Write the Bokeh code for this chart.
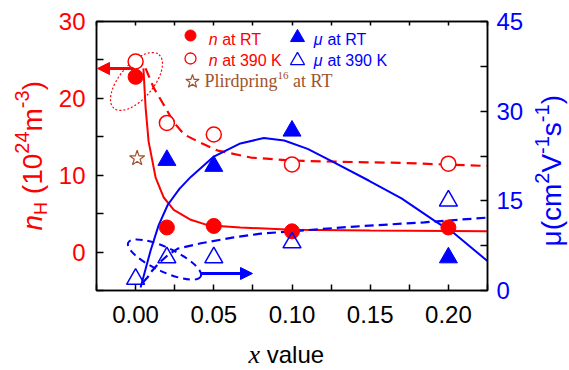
from bokeh.plotting import figure
from bokeh.layouts import row, column
from bokeh.models import Range1d, LinearAxis, FixedTicker, Label, Arrow, NormalHead, NumeralTickFormatter
from bokeh.embed import file_html
from bokeh.resources import INLINE

# ---------------- data ----------------
x_pts = [0.0, 0.02, 0.05, 0.10, 0.20]
n_rt = [22.8, 3.2, 3.4, 2.7, 3.2]            # filled circles, left axis
n_390 = [24.8, 16.8, 15.3, 11.4, 11.5]       # open circles, left axis
mu_rt_x = [0.02, 0.05, 0.10, 0.20]
mu_rt = [21.8, 20.8, 26.7, 5.5]              # filled triangles, right axis
mu_390 = [1.9, 5.5, 5.5, 8.0, 15.0]          # open triangles, right axis
ref_x = [0.001]
ref_n = [12.2]                               # Plirdpring at RT

# fitted guide curves
fit_nrt_x = [0.005, 0.0064, 0.0083, 0.0128, 0.018, 0.0244, 0.0353, 0.046, 0.067, 0.10, 0.15, 0.225]
fit_nrt_y = [23.9, 18.8, 14.4, 9.7, 7.1, 5.5, 4.2, 3.5, 3.2, 2.9, 2.8, 2.7]
fit_n390_x = [0.0064, 0.0115, 0.0173, 0.0244, 0.031, 0.0417, 0.0526, 0.0737, 0.0994, 0.1186, 0.17, 0.225]
fit_n390_y = [23.9, 21.4, 19.4, 16.9, 15.3, 14.2, 13.2, 12.3, 11.9, 11.8, 11.6, 11.2]
fit_murt_x = [0.0032, 0.0096, 0.0147, 0.0205, 0.028, 0.0353, 0.05, 0.067, 0.082, 0.095, 0.11, 0.125, 0.149, 0.17, 0.191, 0.204, 0.226]
fit_murt_y = [0.5, 6.7, 10.9, 14.3, 17.0, 19.0, 22.4, 24.6, 25.5, 25.1, 23.7, 21.7, 18.4, 15.4, 11.7, 9.5, 4.7]
fit_mu390_x = [0.0045, 0.0077, 0.0096, 0.015, 0.0205, 0.027, 0.0417, 0.0628, 0.08, 0.0994, 0.14, 0.1846, 0.225]
fit_mu390_y = [1.3, 2.2, 3.0, 4.6, 5.9, 7.0, 7.9, 8.9, 9.5, 9.9, 10.7, 11.4, 12.2]

x_ticks = [0.0, 0.05, 0.10, 0.15, 0.20]
x_minor = [-0.025, 0.025, 0.075, 0.125, 0.175, 0.225]
n_ticks = [0, 10, 20, 30]
n_minor = [-5, 5, 15, 25]
mu_ticks = [0, 15, 30, 45]
mu_minor = [7.5, 22.5, 37.5]

RED = "#ff0000"
BLUE = "#0000ff"
BROWN = "#a0522d"
SANS = "Liberation Sans"
SERIF = "Liberation Serif"

X0, X1, Y0, Y1, M0, M1 = -0.025, 0.225, -5, 30, 0, 45
# page layout (px)
W, H = 569, 370
FL, FR, FT, FB = 96, 487, 21, 290     # plot frame
LW = 55                                # left title strip width
RX = 528                               # right title strip start
BY = 334                               # bottom title strip start
BASE_FIX = 0.25                        # baseline correction (fraction of font size)


def px2x(px):
    return X0 + (px - FL) * (X1 - X0) / (FR - FL)


def py2y(py):
    return Y0 + (FB - py) * (Y1 - Y0) / (FB - FT)


p = figure(width=RX - LW, height=BY, x_range=Range1d(X0, X1), y_range=Range1d(Y0, Y1),
           output_backend="svg", toolbar_location=None,
           min_border_left=FL - LW, min_border_right=RX - FR,
           min_border_top=FT, min_border_bottom=BY - FB)
p.extra_y_ranges = {"mu": Range1d(M0, M1)}
p.grid.visible = False
p.outline_line_color = "black"
p.outline_line_width = 1.5
p.background_fill_color = "white"
p.border_fill_color = "white"


def style_axis(ax, color, ticks, minor, standoff, tick_len=7):
    ax.ticker = FixedTicker(ticks=ticks, minor_ticks=minor)
    ax.major_tick_in = tick_len
    ax.major_tick_out = 0
    ax.minor_tick_in = tick_len
    ax.minor_tick_out = 0
    ax.axis_line_width = 1.5
    ax.major_tick_line_width = 1.5
    ax.minor_tick_line_width = 1.5
    ax.axis_line_color = "black"
    ax.major_tick_line_color = "black"
    ax.minor_tick_line_color = "black"
    ax.major_label_text_font = SANS
    ax.major_label_text_font_size = "24px"
    ax.major_label_text_color = color
    ax.major_label_standoff = standoff


xa = p.xaxis[0]
style_axis(xa, "black", x_ticks, x_minor, 15, 6)
xa.formatter = NumeralTickFormatter(format="0.00")
ya = p.yaxis[0]
style_axis(ya, RED, n_ticks, n_minor, 11)

ra = LinearAxis(y_range_name="mu")
style_axis(ra, BLUE, mu_ticks, mu_minor, 9)
p.add_layout(ra, "right")

ta = LinearAxis()
style_axis(ta, "black", x_ticks, x_minor, 0, 4)
ta.major_label_text_font_size = "1px"
ta.major_label_text_alpha = 0
p.add_layout(ta, "above")

# ---------------- annotations: ellipses ----------------
p.ellipse(x=[px2x(136)], y=[py2y(81)], width=70, height=34, angle=50, angle_units="deg",
          width_units="screen", height_units="screen", fill_color=None,
          line_color=RED, line_width=1.2, line_dash="2 2")
p.ellipse(x=[px2x(164)], y=[py2y(259)], width=80, height=24, angle=-25, angle_units="deg",
          width_units="screen", height_units="screen", fill_color=None,
          line_color=BLUE, line_width=2, line_dash="7 5")

# ---------------- fit curves ----------------
p.line(fit_nrt_x, fit_nrt_y, line_color=RED, line_width=2)
p.line(fit_n390_x, fit_n390_y, line_color=RED, line_width=2.2, line_dash="10 6")
p.line(fit_murt_x, fit_murt_y, line_color=BLUE, line_width=2, y_range_name="mu")
p.line(fit_mu390_x, fit_mu390_y, line_color=BLUE, line_width=2.2, line_dash="9 5", y_range_name="mu")

# ---------------- data markers ----------------
p.scatter(x_pts, n_rt, marker="circle", size=15, fill_color=RED, line_color=RED)
p.scatter(x_pts, n_390, marker="circle", size=15, fill_color="white", line_color=RED, line_width=1.5)
p.scatter(mu_rt_x, mu_rt, marker="triangle", size=18, fill_color=BLUE, line_color=BLUE,
          y_range_name="mu")
p.scatter(x_pts, mu_390, marker="triangle", size=18, fill_color=None, line_color=BLUE,
          line_width=1.5, y_range_name="mu")
p.scatter(ref_x, ref_n, marker="star", size=16, fill_color=None, line_color=BROWN, line_width=1.2)

# ---------------- arrows ----------------
p.add_layout(Arrow(end=NormalHead(size=12, fill_color=RED, line_color=RED),
                   x_start=px2x(133), y_start=py2y(68), x_end=px2x(97), y_end=py2y(68),
                   line_color=RED, line_width=3))
p.add_layout(Arrow(end=NormalHead(size=12, fill_color=BLUE, line_color=BLUE),
                   x_start=px2x(200), y_start=py2y(273), x_end=px2x(252), y_end=py2y(273),
                   line_color=BLUE, line_width=3))

# ---------------- text helpers ----------------
AW = {"0": .556, "1": .556, "2": .556, "3": .556, "4": .556, "6": .556, "9": .556, " ": .278,
      "(": .333, ")": .333, "-": .333, "m": .833, "n": .556, "H": .722, "c": .5, "V": .667,
      "s": .5, "\u03bc": .576, "a": .556, "t": .278, "R": .722, "T": .611, "K": .667,
      "v": .5, "l": .222, "u": .556, "e": .556}
TW = {"P": .556, "l": .278, "i": .278, "r": .333, "d": .5, "p": .5, "n": .5, "g": .5, " ": .25,
      "a": .444, "t": .278, "R": .667, "T": .611, "1": .5, "6": .5, "x": .444}


def width(s, size, family):
    tab = TW if family == SERIF else AW
    return sum(tab.get(c, .556) for c in s) * size


def hrun(fig, fx, fy, px, py, runs):
    cur = px
    for text, size, style, family, color, dy in runs:
        lead = len(text) - len(text.lstrip(" "))
        cur += width(" " * lead, size, family)
        text = text.lstrip(" ")
        fig.add_layout(Label(x=fx(cur), y=fy(py + dy - BASE_FIX * size), text=text, text_font=family,
                             text_font_size=f"{size}px", text_font_style=style, text_color=color,
                             text_align="left", text_baseline="alphabetic"))
        cur += width(text, size, family)


def vrun(fig, px, py, runs):
    cur = py
    for text, size, style, family, color, dx in runs:
        lead = len(text) - len(text.lstrip(" "))
        cur -= width(" " * lead, size, family)
        text = text.lstrip(" ")
        fig.add_layout(Label(x=px + dx - BASE_FIX * size, y=-cur, text=text, text_font=family,
                             text_font_size=f"{size}px", text_font_style=style, text_color=color,
                             text_align="left", text_baseline="alphabetic", angle=90,
                             angle_units="deg"))
        cur -= width(text, size, family)


def strip_fig(w, h, x0, y0, top, bot):
    # frame spans page rows y0+top .. y0+h-bot, data y = -page y
    f = figure(width=w, height=h, x_range=Range1d(x0, x0 + w),
               y_range=Range1d(-(y0 + h - bot), -(y0 + top)),
               output_backend="svg", toolbar_location=None, min_border_left=0,
               min_border_right=0, min_border_top=top, min_border_bottom=bot,
               x_axis_location=None, y_axis_location=None)
    f.grid.visible = False
    f.outline_line_color = None
    f.background_fill_color = "white"
    f.border_fill_color = "white"
    return f


# legend markers
p.scatter([px2x(190)], [py2y(35)], marker="circle", size=11, fill_color=RED, line_color=RED)
p.scatter([px2x(190)], [py2y(58)], marker="circle", size=11, fill_color="white", line_color=RED,
          line_width=1.3)
p.scatter([px2x(192)], [py2y(81)], marker="star", size=14, fill_color=None, line_color=BROWN,
          line_width=1.2)
p.scatter([px2x(297)], [py2y(37)], marker="triangle", size=14, fill_color=BLUE, line_color=BLUE)
p.scatter([px2x(297)], [py2y(60)], marker="triangle", size=14, fill_color=None, line_color=BLUE,
          line_width=1.3)

# legend texts
hrun(p, px2x, py2y, 208.3, 42.7, [("n", 16, "italic", SANS, RED, 0), (" at RT", 16, "normal", SANS, RED, 0)])
hrun(p, px2x, py2y, 208.3, 64, [("n", 16, "italic", SANS, RED, 0), (" at 390 K", 16, "normal", SANS, RED, 0)])
hrun(p, px2x, py2y, 204, 85, [("Plirdpring", 18, "normal", SERIF, BROWN, 0),
                              ("16", 11, "normal", SERIF, BROWN, -7),
                              (" at RT", 18, "normal", SERIF, BROWN, 0)])
hrun(p, px2x, py2y, 313.3, 42.7, [("\u03bc", 16, "italic", SANS, BLUE, 0), (" at RT", 16, "normal", SANS, BLUE, 0)])
hrun(p, px2x, py2y, 313.3, 64, [("\u03bc", 16, "italic", SANS, BLUE, 0), (" at 390 K", 16, "normal", SANS, BLUE, 0)])

# axis titles in strips around the plot
left = strip_fig(LW, BY, 0, 0, FT, BY - FB)
vrun(left, 38.5, 230, [("n", 28, "italic", SANS, RED, 0), ("H", 18, "normal", SANS, RED, 6),
                       (" (10", 28, "normal", SANS, RED, 0), ("24", 20, "normal", SANS, RED, -12),
                       ("m", 28, "normal", SANS, RED, 0), ("-3", 20, "normal", SANS, RED, -12),
                       (")", 28, "normal", SANS, RED, 0)])
right = strip_fig(W - RX, BY, RX, 0, FT, BY - FB)
vrun(right, 558, 246, [("\u03bc", 28, "normal", SANS, BLUE, 0), ("(cm", 28, "normal", SANS, BLUE, 0),
                       ("2", 20, "normal", SANS, BLUE, -12), ("V", 28, "normal", SANS, BLUE, 0),
                       ("-1", 20, "normal", SANS, BLUE, -12), ("s", 28, "normal", SANS, BLUE, 0),
                       ("-1", 20, "normal", SANS, BLUE, -12), (")", 28, "normal", SANS, BLUE, 0)])
bottom = strip_fig(W, H - BY, 0, BY, 0, 0)
hrun(bottom, lambda v: v, lambda v: -v, 248, 360,
     [("x", 26, "italic", SERIF, "black", 0), (" value", 24, "normal", SANS, "black", 0)])

layout = column(row(left, p, right, spacing=0), bottom, spacing=0)
open("out.html", "w").write(file_html(layout, INLINE))
